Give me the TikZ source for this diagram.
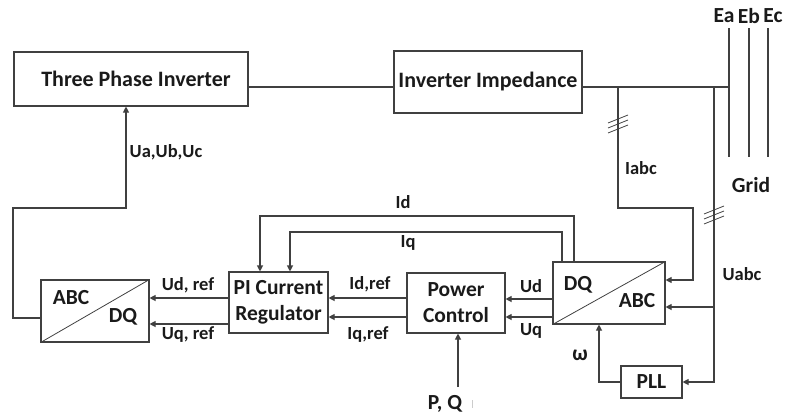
\documentclass[tikz,border=0pt]{standalone}
\usepackage{fontspec}
\setmainfont{Carlito}
\usetikzlibrary{arrows.meta,calc}
\definecolor{wire}{HTML}{404040}
\definecolor{ink}{HTML}{1A1A1A}
\begin{document}
\begin{tikzpicture}[x=1pt,y=-1pt,
  box/.style={draw=wire,line width=1.1pt,inner sep=0pt,align=center,text=ink,font=\bfseries\fontsize{21.5}{26}\selectfont},
  lbl/.style={text=ink,inner sep=0pt,font=\bfseries\fontsize{18.5}{22}\selectfont},
  big/.style={lbl,font=\bfseries\fontsize{21.5}{25}\selectfont},
  wireline/.style={draw=wire,line width=1.1pt},
  sig/.style={wireline,-{Triangle[length=6pt,width=6pt]}},
  ticks/.style={draw=wire,line width=0.8pt}]
\useasboundingbox (0,0) rectangle (787,418);

% blocks
\node[box,minimum width=234pt,minimum height=54pt,font=\bfseries\fontsize{22}{26}\selectfont] (tpi) at (131,79) {\hspace*{10pt}Three Phase Inverter};
\node[box,minimum width=188pt,minimum height=62pt,font=\bfseries\fontsize{22}{26}\selectfont] (imp) at (488,82) {Inverter Impedance};
\node[box,minimum width=112pt,minimum height=62pt] (dqabc) at (609,293) {};
\node[box,minimum width=98pt,minimum height=60pt] (pc) at (456,303) {Power\\Control};
\node[box,minimum width=99pt,minimum height=61pt] (pi) at (278.5,302.5) {PI Current\\Regulator};
\node[box,minimum width=108pt,minimum height=62pt] (abcdq) at (95,311) {};
\node[box,minimum width=61pt,minimum height=32pt] (pll) at (651.5,382) {PLL};

% converter diagonals and labels
\draw[wireline,line width=0.8pt] (dqabc.south west) -- (dqabc.north east);
\draw[wireline,line width=0.8pt] (abcdq.south west) -- (abcdq.north east);
\node[big] (tdq) at (578,285) {DQ};
\node[big] (tabc) at (637,301) {ABC};
\node[big] (tabc2) at (71,298) {ABC};
\node[big] (tdq2) at (123,317) {DQ};

% grid bus
\coordinate (ea1) at (729,28); \coordinate (ea2) at (729,157);
\coordinate (eb1) at (749,28); \coordinate (eb2) at (749,157);
\coordinate (ec1) at (768,28); \coordinate (ec2) at (768,157);
\draw[wireline] (ea1) -- (ea2);
\draw[wireline] (eb1) -- (eb2);
\draw[wireline] (ec1) -- (ec2);
\node[big] (lea) at (724,16) {Ea};
\node[big] (leb) at (749,16) {Eb};
\node[big] (lec) at (773,16) {Ec};
\node[big] (lgrid) at (751,185) {Grid};

% power path
\coordinate (ia) at (618,87);
\coordinate (ua) at (714,87);
\coordinate (busin) at (729,87);
\draw[wireline] ([yshift=-8pt]tpi.east) -- ([yshift=-5pt]imp.west);
\draw[wireline] ([yshift=-5pt]imp.east) -- (busin);

% current measurement
\coordinate (ib) at (618,208);
\coordinate (ic) at (693,208);
\draw[sig] (ia) -- (ib) -- (ic) |- ([yshift=13pt]dqabc.east);
\draw[ticks] (608,123) -- (628,115) (608,128) -- (628,120) (608,133) -- (628,125);
\node[lbl] (liabc) at (641,168) {Iabc};

% voltage measurement
\coordinate (ub) at (714,382);
\coordinate (um) at (714,307);
\draw[sig] (ua) -- (ub) -- (pll.east);
\draw[sig] (um) -- (dqabc.east |- um);
\draw[ticks] (704,214) -- (724,206) (704,219) -- (724,211) (704,224) -- (724,216);
\node[lbl] (luabc) at (742,274) {Uabc};

% PLL angle
\coordinate (wa) at (599,382);
\draw[sig] (pll.west) -- (wa) -- (wa |- dqabc.south);
\node[big] (lw) at (580,355) {ω};

% measured dq voltages
\draw[sig] (dqabc.west |- 0,299) -- (pc.east |- 0,299);
\draw[sig] (dqabc.west |- 0,317) -- (pc.east |- 0,317);
\node[lbl] (lud) at (531,286) {Ud};
\node[lbl] (luq) at (531,331) {Uq};

% current references
\draw[sig] (pc.west |- 0,298) -- (pi.east |- 0,298);
\draw[sig] (pc.west |- 0,317) -- (pi.east |- 0,317);
\node[lbl] (lidref) at (370,284) {Id,ref};
\node[lbl] (liqref) at (368,335) {Iq,ref};

% measured dq currents fed back
\coordinate (da) at (574,216);
\coordinate (db) at (260,216);
\coordinate (qa) at (562,232);
\coordinate (qb) at (290,232);
\draw[sig] (dqabc.north -| da) -- (da) -- (db) -- (db |- pi.north);
\draw[sig] (dqabc.north -| qa) -- (qa) -- (qb) -- (qb |- pi.north);
\node[lbl] (lid) at (403,202) {Id};
\node[lbl] (liq) at (408,243) {Iq};

% voltage references
\draw[sig] (pi.west |- 0,298) -- (abcdq.east |- 0,298);
\draw[sig] (pi.west |- 0,324) -- (abcdq.east |- 0,324);
\node[lbl] (ludref) at (188,285) {Ud, ref};
\node[lbl] (luqref) at (188,335) {Uq, ref};

% modulation signals
\coordinate (ma) at (13,318);
\coordinate (mb) at (13,208);
\coordinate (mc) at (126,208);
\draw[sig] (abcdq.west |- ma) -- (ma) -- (mb) -- (mc) -- (mc |- tpi.south);
\node[lbl] (luabcref) at (166,152) {Ua,Ub,Uc};

% power set-point
\coordinate (pq) at (458,387);
\draw[sig] (pq) -- (pq |- pc.south);
\node[big] (lpq) at (445,404) {P, Q};
\draw[draw=gray!40,line width=0.8pt] (472,400) -- (472,408);
\end{tikzpicture}
\end{document}
